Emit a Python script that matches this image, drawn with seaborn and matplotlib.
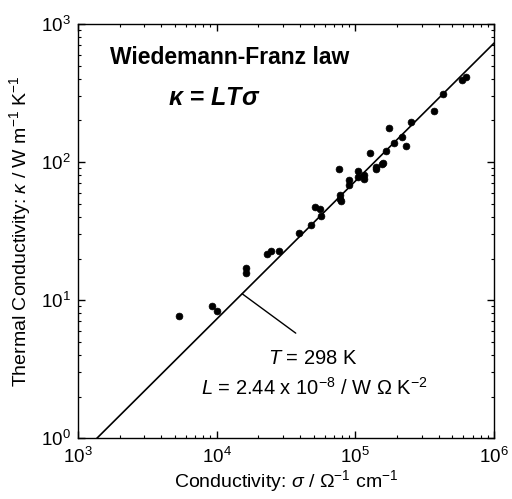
from matplotlib import pyplot as plt
import pandas as pd
import seaborn as sns

# naměřené body (sigma v S/cm, kappa ve W/m/K)
sigma = [5.35e3, 9.3e3, 1.0e4, 1.62e4, 1.62e4, 2.32e4, 2.45e4, 2.82e4, 3.9e4,
         4.82e4, 5.15e4, 5.53e4, 5.69e4, 7.62e4, 7.8e4, 7.8e4, 7.93e4, 9.0e4,
         9.0e4, 1.045e5, 1.045e5, 1.16e5, 1.16e5, 1.28e5, 1.42e5, 1.42e5,
         1.585e5, 1.55e5, 1.65e5, 1.75e5, 1.89e5, 2.18e5, 2.33e5, 2.53e5,
         3.69e5, 4.29e5, 5.92e5, 6.25e5]
kappa = [7.7, 9.1, 8.3, 17.0, 15.8, 21.7, 22.5, 22.6, 30.5,
         34.9, 47.6, 46.0, 40.3, 89.7, 57.8, 54.1, 52.3, 74.3,
         68.3, 86.7, 78.5, 80.7, 75.5, 115.8, 92.7, 89.0,
         99.0, 97.0, 120.4, 177.7, 138.3, 152.9, 130.9, 196.4,
         233.0, 311.0, 393.0, 416.0]

# Wiedemann-Franz přímka (L T sigma, T = 298 K, L = 2.44e-8)
line_sigma = [1.0e3, 1.0e6]
line_kappa = [0.727, 727.0]

df = pd.DataFrame({"sigma": sigma, "kappa": kappa})
df_line = pd.DataFrame({"sigma": line_sigma, "kappa": line_kappa})

sns.set_style("ticks")
plt.rcParams["font.family"] = ["Liberation Sans", "DejaVu Sans"]
plt.rcParams["mathtext.fontset"] = "custom"
plt.rcParams["mathtext.rm"] = "Liberation Sans"
plt.rcParams["mathtext.it"] = "Liberation Sans:italic"
plt.rcParams["mathtext.bf"] = "Liberation Sans:bold:italic"
plt.rcParams["text.color"] = "black"
plt.rcParams["axes.labelcolor"] = "black"

fig = plt.figure(figsize=(5.12, 4.99), dpi=100)
ax = fig.add_axes([0.152, 0.122, 0.813, 0.83])

sns.lineplot(data=df_line, x="sigma", y="kappa", color="black", lw=1.2, ax=ax)
sns.scatterplot(data=df, x="sigma", y="kappa", color="black", s=24,
                edgecolor="black", linewidth=0.5, ax=ax, zorder=3)

ax.set_xscale("log")
ax.set_yscale("log")
ax.set_xlim(1e3, 1e6)
ax.set_ylim(1e0, 1e3)

for s in ax.spines.values():
    s.set_visible(True)
    s.set_color("black")
    s.set_linewidth(1.0)
ax.tick_params(which="both", direction="in", top=True, right=True,
               colors="black", labelcolor="black", labelsize=13.5)
ax.tick_params(which="major", length=5, width=1)
ax.tick_params(which="minor", length=2.5, width=0.8)
ax.tick_params(axis="x", pad=6)
ax.tick_params(axis="y", pad=5)

ax.set_xlabel(r"Conductivity: $\sigma$ / $\Omega^{-1}$ cm$^{-1}$", fontsize=14,
              labelpad=1)
ax.set_ylabel(r"Thermal Conductivity: $\kappa$ / W m$^{-1}$ K$^{-1}$", fontsize=14,
              labelpad=6)

ax.text(0.077, 0.92, "Wiedemann-Franz law", transform=ax.transAxes,
        fontsize=16.5, fontweight="bold", va="center", ha="left")
ax.text(0.216, 0.821, r"$\mathbf{\kappa}$ = $\mathbf{LT\sigma}$", transform=ax.transAxes,
        fontsize=18, fontweight="bold", va="center", ha="left")

ax.annotate("", xy=(1.53e4, 11.1), xytext=(3.72e4, 5.76),
            arrowprops=dict(arrowstyle="-", color="black", lw=1.0,
                            shrinkA=0, shrinkB=0))
ax.text(4.95e4, 3.8, r"$T$ = 298 K", fontsize=14.5, ha="center", va="center")
ax.text(5.1e4, 2.3, r"$L$ = 2.44 x 10$^{-8}$ / W $\Omega$ K$^{-2}$",
        fontsize=14.5, ha="center", va="center")

plt.savefig("out.png", dpi=100)
